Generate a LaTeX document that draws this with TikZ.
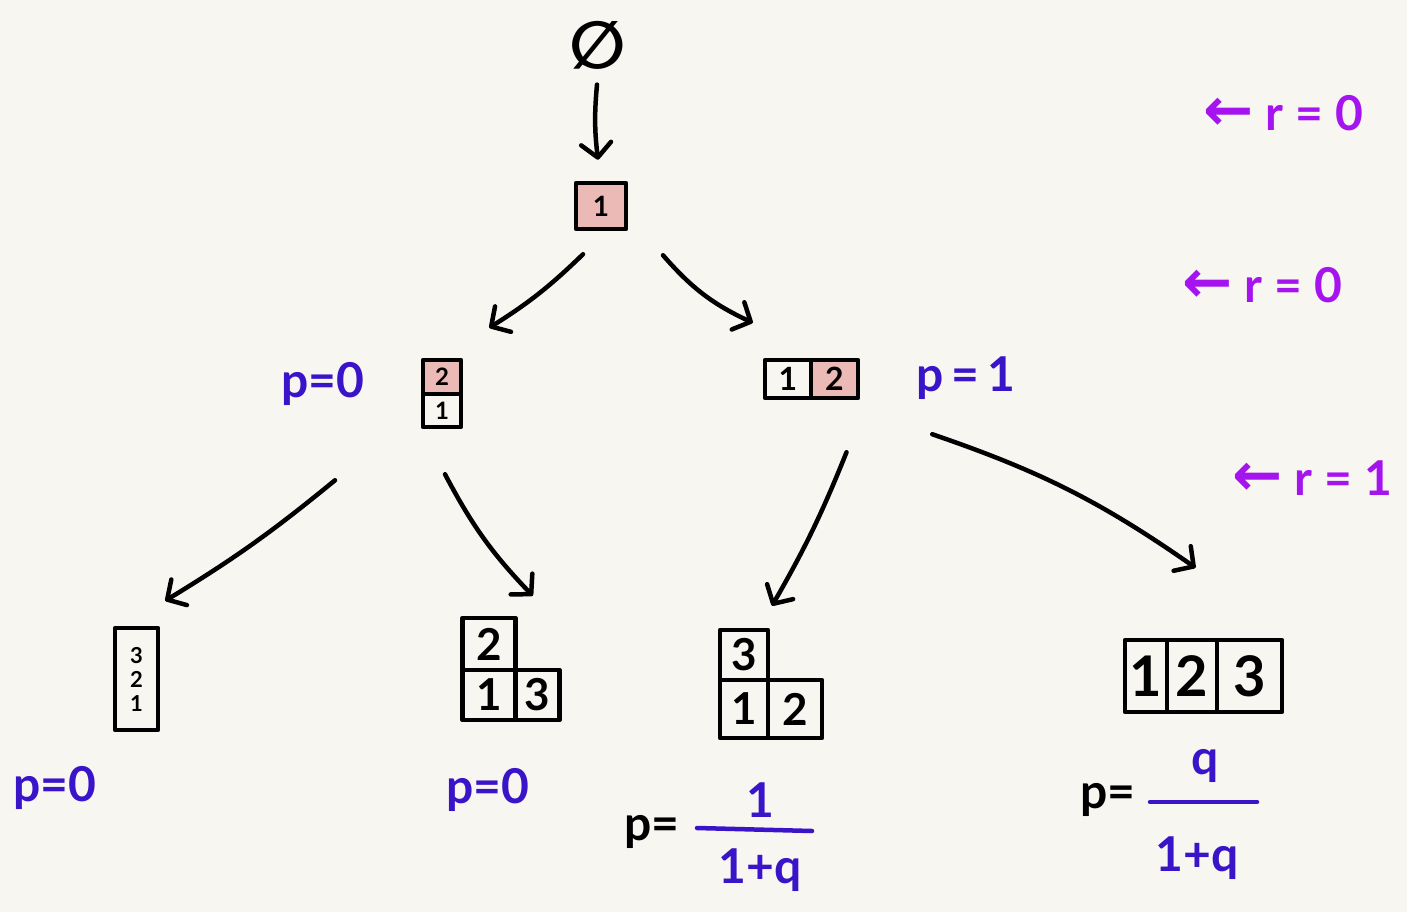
\documentclass[tikz,border=0pt]{standalone}
\usepackage{fontspec}
\setmainfont{Lato}
\newfontfamily\symfont{DejaVu Sans}
\usetikzlibrary{arrows.meta,calc}
\definecolor{paper}{HTML}{F8F6F1}
\definecolor{cellpink}{HTML}{EBB9B6}
\definecolor{pblue}{HTML}{3A14C8}
\definecolor{rpurple}{HTML}{A514EE}
\newcommand\fsz[1]{\fontsize{#1}{#1}\selectfont}
\newcommand\gap{\hspace{12pt}}
\tikzset{
  ink/.style={line width=4.5pt, line cap=round, line join=round},
  cell/.style={draw, ink, inner sep=0pt, anchor=center},
  pink/.style={fill=cellpink},
  arr/.style={ink, -{Straight Barb[length=14pt,width=30pt,round]}},
  plab/.style={text=pblue, font=\bfseries\fsz{48}},
  rlab/.style={text=rpurple, font=\bfseries\fsz{48}},
  blk/.style={text=black, font=\bfseries\fsz{48}},
}
\begin{document}
\begin{tikzpicture}[x=1pt,y=-1pt]
\fill[paper] (0,0) rectangle (1407,912);
\useasboundingbox (0,0) rectangle (1407,912);

% root and first box
\node[font=\symfont\bfseries\fsz{66}] (empty) at (598,45) {∅};
\node[cell, pink, minimum width=50pt, minimum height=46pt, font=\bfseries\fsz{28}] (t1) at (601,206) {1};

% second level
\node[cell, pink, minimum width=38pt, minimum height=34pt, font=\bfseries\fsz{24}] (t2b) at (442,377) {2};
\node[cell, minimum width=38pt, minimum height=33pt, font=\bfseries\fsz{24}] (t2a) at (442,410.5) {1};
\node[cell, minimum width=46pt, minimum height=38pt, font=\bfseries\fsz{32}] (t3a) at (788,379) {1};
\node[cell, pink, minimum width=47pt, minimum height=38pt, font=\bfseries\fsz{32}] (t3b) at (834.5,379) {2};

% third level
\node[cell, minimum width=43pt, minimum height=102pt, font=\bfseries\fsz{22}, align=center] (b1) at (136.5,679) {3\\[2pt]2\\[2pt]1};

\node[cell, minimum width=53pt, minimum height=52pt, font=\bfseries\fsz{44}] (b2t) at (489,644) {2};
\node[cell, minimum width=53pt, minimum height=50pt, font=\bfseries\fsz{44}] (b2a) at (489,695) {1};
\node[cell, minimum width=44pt, minimum height=50pt, font=\bfseries\fsz{44}] (b2b) at (537.5,695) {3};

\node[cell, minimum width=48pt, minimum height=50pt, font=\bfseries\fsz{44}] (b3t) at (744,655) {3};
\node[cell, minimum width=48pt, minimum height=58pt, font=\bfseries\fsz{44}] (b3a) at (744,709) {1};
\node[cell, minimum width=54pt, minimum height=58pt, font=\bfseries\fsz{44}] (b3b) at (795,709) {2};

\node[cell, minimum width=42pt, minimum height=72pt, font=\bfseries\fsz{56}] (b4a) at (1146,676) {1};
\node[cell, minimum width=50pt, minimum height=72pt, font=\bfseries\fsz{56}] (b4b) at (1192,676) {2};
\node[cell, minimum width=65pt, minimum height=72pt, font=\bfseries\fsz{56}] (b4c) at (1249.5,676) {3};

% arrows
\draw[arr] ($(empty.south)+(-1,12)$) to[bend right=6] ($(t1.north)+(-3,-21)$);
\draw[arr] ($(t1.south)+(-18,23)$) to[bend left=6] ($(t2b.north east)+(26,-30)$);
\draw[arr] ($(t1.south)+(62,24)$) to[bend right=12] ($(t3a.north west)+(-10,-35)$);
\draw[arr] ($(t2a.south)+(-107,51)$) to[bend left=4] ($(b1.north east)+(5,-25)$);
\draw[arr] ($(t2a.south)+(3,45)$) to[bend right=8] ($(b2t.north east)+(15,-20)$);
\draw[arr] ($(t3b.south)+(12,52)$) to[bend left=4] ($(b3t.north)+(28,-22)$);
\draw[arr] ($(t3b.south east)+(72,34)$) to[bend left=8] ($(b4c.north)+(-54,-70)$);

% level labels
\node[rlab] (r0) at (1283,113) {{\symfont\fsz{60}←}\gap r\gap=\gap 0};
\node[rlab] (r1) at (1262,285) {{\symfont\fsz{60}←}\gap r\gap=\gap 0};
\node[rlab] (r2) at (1312,478) {{\symfont\fsz{60}←}\gap r\gap=\gap 1};

% probabilities
\node[plab] (p1) at (323,384) {p=0};
\node[plab] (p2) at (966,378) {p\,=\,1};
\node[plab] (p3) at (55,788) {p=0};
\node[plab] (p4) at (488,790) {p=0};

\node[blk] (p5) at (652,832) {p=};
\coordinate (f1l) at (697,828);
\coordinate (f1r) at (812,831);
\draw[ink, pblue] (f1l) -- (f1r);
\node[plab] (n5) at (760,800) {1};
\node[plab] (d5) at (760,870) {1+q};

\node[blk] (p6) at (1108,800) {p=};
\coordinate (f2l) at (1150,802);
\coordinate (f2r) at (1257,802);
\draw[ink, pblue] (f2l) -- (f2r);
\node[plab] (n6) at (1205,766) {q};
\node[plab] (d6) at (1197,858) {1+q};
\end{tikzpicture}
\end{document}
